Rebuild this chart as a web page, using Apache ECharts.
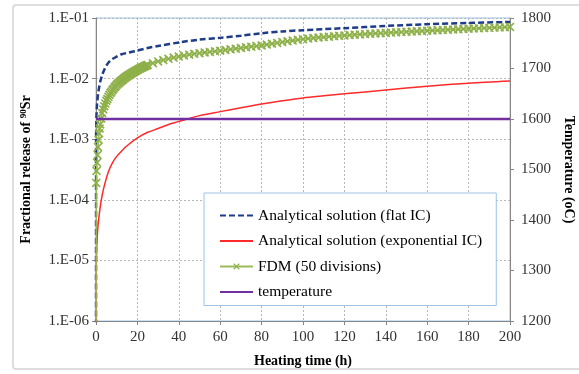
<!DOCTYPE html>
<html>
<head>
<meta charset="utf-8">
<script src="https://cdn.jsdelivr.net/npm/echarts@6/dist/echarts.min.js"></script>
<style>
html,body{margin:0;padding:0;background:#fff;}
#c{width:579px;height:374px;}
</style>
</head>
<body>
<div id="c"></div>
<script>
// ---- data ----
const xTicks = [0, 20, 40, 60, 80, 100, 120, 140, 160, 180, 200];
const yLeftTicks = ['1.E-06', '1.E-05', '1.E-04', '1.E-03', '1.E-02', '1.E-01'];
const yRightTicks = [1200, 1300, 1400, 1500, 1600, 1700, 1800];

const flatT = [0, 0.05, 0.25, 0.5, 1, 1.6, 2, 3, 4, 5.3, 7, 9.4, 12, 16, 20, 25, 30, 41, 50, 60, 70, 80, 90, 100, 120, 140, 160, 180, 200];
const flatV = [1e-8, 1.1e-3, 2.5e-3, 3.8e-3, 5.5e-3, 7.5e-3, 8.8e-3, 1.15e-2, 1.4e-2, 1.7e-2, 2.0e-2, 2.25e-2, 2.5e-2, 2.7e-2, 2.9e-2, 3.2e-2, 3.45e-2, 4.0e-2, 4.4e-2, 4.7e-2, 5.1e-2, 5.6e-2, 6.0e-2, 6.3e-2, 6.8e-2, 7.4e-2, 7.9e-2, 8.3e-2, 8.6e-2];

const expT = [0, 0.1, 0.3, 0.5, 1, 2, 3, 4, 6, 8, 10, 12.6, 15, 20, 25, 30, 36, 43, 50, 60, 70, 80, 90, 100, 110, 120, 140, 160, 180, 200];
const expV = [1e-8, 6e-6, 1.5e-5, 2.2e-5, 3.8e-5, 7.5e-5, 1.2e-4, 1.7e-4, 2.9e-4, 4.1e-4, 5.2e-4, 6.5e-4, 7.8e-4, 1.05e-3, 1.3e-3, 1.5e-3, 1.8e-3, 2.1e-3, 2.45e-3, 2.85e-3, 3.3e-3, 3.8e-3, 4.3e-3, 4.8e-3, 5.2e-3, 5.6e-3, 6.5e-3, 7.5e-3, 8.4e-3, 9.1e-3];

const fdmT = [0, 0.1, 0.25, 0.5, 0.75, 1, 1.25, 1.5, 1.75, 2, 2.5, 3, 3.5, 4, 4.5, 5, 5.5, 6, 6.5, 7, 7.5, 8, 8.5, 9, 9.5, 10, 10.5, 11, 11.5, 12, 12.5, 13, 13.5, 14, 14.5, 15, 15.5, 16, 16.5, 17, 17.5, 18, 18.5, 19, 19.5, 20, 20.5, 21, 21.5, 22, 22.5, 23, 23.5, 24, 24.5,
  25, 27.5, 30, 32.5, 35, 37.5, 40, 42.5, 45, 47.5, 50, 52.5, 55, 57.5, 60, 62.5, 65, 67.5, 70, 72.5, 75, 77.5, 80, 82.5, 85, 87.5, 90, 92.5, 95, 97.5, 100, 102.5, 105, 107.5, 110, 112.5, 115, 117.5, 120, 122.5, 125, 127.5, 130, 132.5, 135, 137.5, 140, 142.5, 145, 147.5, 150, 152.5, 155, 157.5, 160, 162.5, 165, 167.5, 170, 172.5, 175, 177.5, 180, 182.5, 185, 187.5, 190, 192.5, 195, 197.5, 200];
const fdmV = [1e-8, 1.9e-4, 3.0e-4, 4.1e-4, 5.5e-4, 7.4e-4, 9.8e-4, 1.25e-3, 1.5e-3, 1.75e-3, 2.2e-3, 2.7e-3, 3.1e-3, 3.5e-3, 3.9e-3, 4.3e-3, 4.6e-3, 5.0e-3, 5.4e-3, 5.8e-3, 6.1e-3, 6.5e-3, 6.8e-3, 7.2e-3, 7.5e-3, 7.9e-3, 8.2e-3, 8.5e-3, 8.8e-3, 9.1e-3, 9.4e-3, 9.7e-3, 1.0e-2, 1.03e-2, 1.06e-2, 1.09e-2, 1.12e-2, 1.15e-2, 1.18e-2, 1.21e-2, 1.24e-2, 1.27e-2, 1.30e-2, 1.33e-2, 1.36e-2, 1.39e-2, 1.42e-2, 1.45e-2, 1.48e-2, 1.51e-2, 1.54e-2, 1.57e-2, 1.60e-2, 1.63e-2, 1.655e-2,
  0.0168, 0.0180, 0.0192, 0.0202, 0.0212, 0.0222, 0.0231, 0.0240, 0.0248, 0.0256, 0.0263, 0.0270, 0.0276, 0.0282, 0.0288, 0.0296, 0.0304, 0.0312, 0.0320, 0.0328, 0.0336, 0.0344, 0.0352, 0.0364, 0.0376, 0.0388, 0.0400, 0.0412, 0.0424, 0.0436, 0.0448, 0.0458, 0.0467, 0.0476, 0.0484, 0.0492, 0.0500, 0.0508, 0.0515, 0.0522, 0.0529, 0.0536, 0.0543, 0.0550, 0.0556, 0.0562, 0.0568, 0.0574, 0.0580, 0.0586, 0.0592, 0.0598, 0.0604, 0.0610, 0.0616, 0.0622, 0.0628, 0.0634, 0.0640, 0.0646, 0.0652, 0.0658, 0.0664, 0.0670, 0.0676, 0.0682, 0.0688, 0.0694, 0.0700, 0.0706, 0.0712];

const tempT = [0, 200];
const tempV = [1600, 1600];

const seriesNames = ['Analytical solution (flat IC)', 'Analytical solution (exponential IC)', 'FDM (50 divisions)', 'temperature'];

// ---- build ----
const zip = (a, b) => a.map((v, i) => [v, b[i]]);
const FONT = '"Liberation Serif", "Times New Roman", serif';
const xMark = 'path://M0,1.3 L1.3,0 L5,3.7 L8.7,0 L10,1.3 L6.3,5 L10,8.7 L8.7,10 L5,6.3 L1.3,10 L0,8.7 L3.7,5 Z';

const chart = echarts.init(document.getElementById('c'), null, {renderer: 'canvas'});
chart.setOption({
  animation: false,
  backgroundColor: '#fff',
  textStyle: {fontFamily: FONT},
  graphic: [{
    type: 'rect', silent: true, z: -10,
    shape: {x: 13, y: 5, width: 620, height: 364, r: 3},
    style: {fill: 'none', stroke: '#D4D4D4', lineWidth: 1.5}
  }],
  grid: {left: 96, right: 69, top: 18, bottom: 53, outerBoundsMode: 'none', containLabel: false,
    show: true, borderColor: '#9DC3E6', borderWidth: 1, backgroundColor: 'transparent'},
  legend: {
    orient: 'vertical', left: 204, top: 193,
    padding: [14, 14, 5, 15],
    itemWidth: 33, itemHeight: 8, itemGap: 8.5,
    backgroundColor: '#fff', borderColor: '#9DC3E6', borderWidth: 1,
    textStyle: {fontFamily: FONT, fontSize: 15.5, color: '#000', lineHeight: 17},
    data: [
      {name: seriesNames[0], itemStyle: {opacity: 0}},
      {name: seriesNames[1], itemStyle: {opacity: 0}},
      {name: seriesNames[2]},
      {name: seriesNames[3], itemStyle: {opacity: 0}}
    ]
  },
  xAxis: {
    type: 'value', min: xTicks[0], max: xTicks[xTicks.length - 1], interval: 20,
    name: 'Heating time (h)', nameLocation: 'middle', nameGap: 33,
    nameTextStyle: {fontFamily: FONT, fontSize: 14, fontWeight: 'bold', color: '#000'},
    axisLine: {lineStyle: {color: '#868686', width: 1}},
    axisTick: {show: true, length: 4, lineStyle: {color: '#868686'}},
    axisLabel: {fontFamily: FONT, fontSize: 15, color: '#333', margin: 9},
    splitLine: {show: true, lineStyle: {color: '#B8B8B8', type: [2, 2], width: 1}}
  },
  yAxis: [{
    type: 'log', logBase: 10, min: 1e-6, max: 0.1,
    name: '{a|Fractional release of }{s|90}{a|Sr}', nameLocation: 'middle', nameGap: 62, nameRotate: 90,
    nameTextStyle: {fontFamily: FONT, fontSize: 14, fontWeight: 'bold', color: '#000',
      rich: {a: {fontFamily: FONT, fontSize: 14, fontWeight: 'bold', color: '#000'},
             s: {fontFamily: FONT, fontSize: 9, fontWeight: 'bold', color: '#000', verticalAlign: 'top', padding: [0, 0, 6, 0]}}},
    axisLine: {show: true, lineStyle: {color: '#868686', width: 1}},
    axisTick: {show: true, length: 4, lineStyle: {color: '#868686'}},
    axisLabel: {fontFamily: FONT, fontSize: 15, color: '#333', margin: 7,
      formatter: v => { const e = Math.round(Math.log10(v)); const i = e + 6; return yLeftTicks[i] || ''; }},
    splitLine: {show: true, lineStyle: {color: '#B8B8B8', type: [2, 2], width: 1}}
  }, {
    type: 'value', min: yRightTicks[0], max: yRightTicks[yRightTicks.length - 1], interval: 100, position: 'right',
    name: 'Temperature (oC)', nameLocation: 'middle', nameGap: 47, nameRotate: -90,
    nameTextStyle: {fontFamily: FONT, fontSize: 14, fontWeight: 'bold', color: '#000'},
    axisLine: {show: true, lineStyle: {color: '#868686', width: 1}},
    axisTick: {show: true, length: 4, lineStyle: {color: '#868686'}},
    axisLabel: {fontFamily: FONT, fontSize: 15, color: '#333', margin: 11, formatter: v => String(v)},
    splitLine: {show: false}
  }],
  series: [{
    name: seriesNames[0], type: 'line', yAxisIndex: 0, data: zip(flatT, flatV),
    showSymbol: false, symbol: 'none', smooth: 0.3, clip: true,
    lineStyle: {color: '#1F3C88', width: 2.5, type: [6, 3]},
    itemStyle: {color: '#1F3C88'}, z: 2
  }, {
    name: seriesNames[1], type: 'line', yAxisIndex: 0, data: zip(expT, expV),
    showSymbol: false, symbol: 'none', smooth: 0.3, clip: true,
    lineStyle: {color: '#FF2A2A', width: 1.5},
    itemStyle: {color: '#FF2A2A'}, z: 3
  }, {
    name: seriesNames[2], type: 'line', yAxisIndex: 0, data: zip(fdmT, fdmV),
    symbol: xMark, symbolSize: 9, showSymbol: true, showAllSymbol: true, clip: true,
    lineStyle: {color: '#9BBB59', width: 1.5},
    itemStyle: {color: '#8DB049'}, z: 4
  }, {
    name: seriesNames[3], type: 'line', yAxisIndex: 1, data: zip(tempT, tempV),
    showSymbol: false, symbol: 'none',
    lineStyle: {color: '#7030A0', width: 2.5},
    itemStyle: {color: '#7030A0'}, z: 5
  }]
});
</script>
</body>
</html>
